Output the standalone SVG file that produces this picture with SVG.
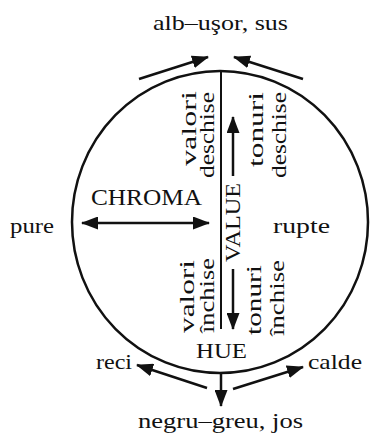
<svg xmlns="http://www.w3.org/2000/svg" width="370" height="435" viewBox="0 0 370 435">
<style>
  text { font-family: "Liberation Serif", "Times New Roman", serif; font-size: 22px; fill: #111; }
  .big { font-size: 23px; }
  .ln { stroke: #111; stroke-width: 2.5; fill: none; }
  .thin { stroke: #111; stroke-width: 2; fill: none; }
  .arr { stroke: #111; stroke-width: 2.5; fill: none; marker-end: url(#ah); }
</style>
<defs>
  <marker id="ah" markerUnits="userSpaceOnUse" markerWidth="17" markerHeight="13" refX="16" refY="6.5" orient="auto-start-reverse">
    <path d="M0,0 L17,6.5 L0,13 z" fill="#111"/>
  </marker>
</defs>
<rect width="370" height="435" fill="#fff"/>

<g id="wheel">
  <ellipse class="ln" cx="220" cy="222" rx="148" ry="151"/>
  <line class="thin" x1="221" y1="71" x2="221" y2="329"/>
</g>

<g id="connectors">
  <line class="arr" x1="139" y1="79" x2="208" y2="57"/>
  <line class="arr" x1="303" y1="79" x2="234" y2="57"/>
  <line class="arr" x1="82" y1="223" x2="209" y2="223" marker-start="url(#ah)"/>
  <line class="arr" x1="233" y1="176" x2="233" y2="117"/>
  <line class="arr" x1="233" y1="269" x2="233" y2="329"/>
  <line class="arr" x1="221" y1="373" x2="221" y2="406"/>
  <line class="arr" x1="207" y1="388" x2="137" y2="365"/>
  <line class="arr" x1="233" y1="389" x2="303" y2="367"/>
</g>

<g id="top"><text x="153" y="30" textLength="135" lengthAdjust="spacingAndGlyphs">alb–uşor, sus</text></g>
<g id="bottom"><text x="138" y="428" textLength="165" lengthAdjust="spacingAndGlyphs">negru–greu, jos</text></g>
<g id="reci"><text x="96" y="369" textLength="36" lengthAdjust="spacingAndGlyphs">reci</text></g>
<g id="calde"><text x="308" y="369" textLength="54" lengthAdjust="spacingAndGlyphs">calde</text></g>
<g id="pure"><text x="10" y="233" textLength="44" lengthAdjust="spacingAndGlyphs">pure</text></g>
<g id="rupte"><text x="273" y="233" textLength="57" lengthAdjust="spacingAndGlyphs">rupte</text></g>
<g id="chroma"><text class="big" x="91" y="205" textLength="111" lengthAdjust="spacingAndGlyphs">CHROMA</text></g>
<g id="hue"><text x="196" y="358" textLength="51" lengthAdjust="spacingAndGlyphs">HUE</text></g>
<g id="value"><text transform="translate(240,262) rotate(-90)" textLength="79" lengthAdjust="spacingAndGlyphs">VALUE</text></g>

<g id="valori-deschise">
  <text transform="translate(196,166) rotate(-90)" textLength="75" lengthAdjust="spacingAndGlyphs">valori</text>
  <text transform="translate(214,178) rotate(-90)" textLength="86" lengthAdjust="spacingAndGlyphs">deschise</text>
</g>
<g id="tonuri-deschise">
  <text transform="translate(263,167) rotate(-90)" textLength="75" lengthAdjust="spacingAndGlyphs">tonuri</text>
  <text transform="translate(286,178) rotate(-90)" textLength="86" lengthAdjust="spacingAndGlyphs">deschise</text>
</g>
<g id="valori-inchise">
  <text transform="translate(194,333) rotate(-90)" textLength="73" lengthAdjust="spacingAndGlyphs">valori</text>
  <text transform="translate(214,333) rotate(-90)" textLength="75" lengthAdjust="spacingAndGlyphs">închise</text>
</g>
<g id="tonuri-inchise">
  <text transform="translate(261,335) rotate(-90)" textLength="70" lengthAdjust="spacingAndGlyphs">tonuri</text>
  <text transform="translate(284,336) rotate(-90)" textLength="76" lengthAdjust="spacingAndGlyphs">închise</text>
</g>
</svg>
